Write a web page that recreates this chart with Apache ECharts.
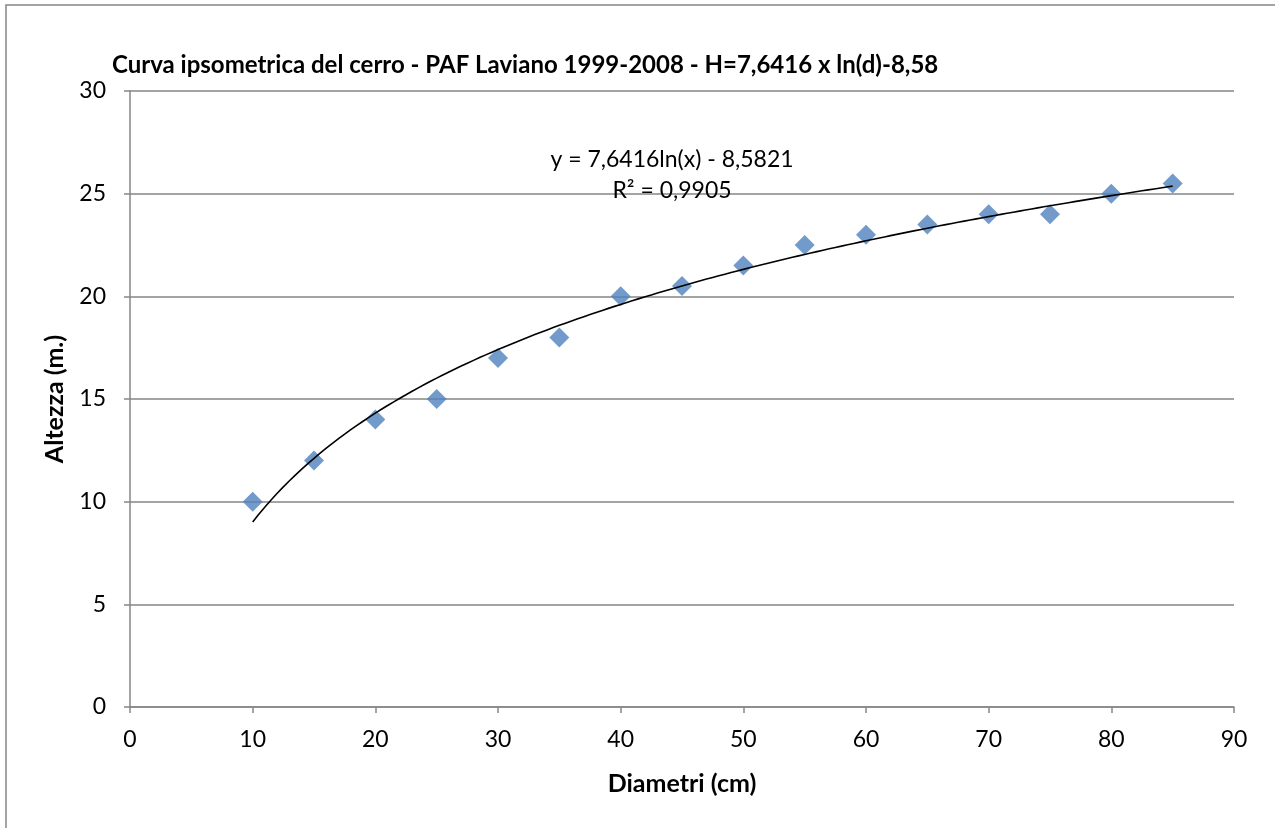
<!DOCTYPE html>
<html>
<head>
<meta charset="utf-8">
<title>Curva ipsometrica del cerro</title>
<script src="https://cdn.jsdelivr.net/npm/echarts@6/dist/echarts.min.js"></script>
<style>
  html, body { margin: 0; padding: 0; background: #ffffff; }
  #chart { width: 1275px; height: 828px; }
</style>
</head>
<body>
<div id="chart"></div>
<script>
// Diametri (cm) and measured heights (m)
const diametri = [10, 15, 20, 25, 30, 35, 40, 45, 50, 55, 60, 65, 70, 75, 80, 85];
const altezze  = [10, 12, 14, 15, 17, 18, 20, 20.5, 21.5, 22.5, 23, 23.5, 24, 24, 25, 25.5];

// Logarithmic trendline coefficients: y = a*ln(x) + b
const trendCoeff = [7.6416, -8.5821];
const trendR2 = '0,9905';

const xTicks = [0, 10, 20, 30, 40, 50, 60, 70, 80, 90];
const yTicks = [0, 5, 10, 15, 20, 25, 30];

const FONT = 'Lato, "Open Sans", sans-serif';
const AXIS_GRAY = '#868686';

const points = diametri.map((d, i) => [d, altezze[i]]);

// Sample the fitted curve across the measured diameter range
const trend = [];
const xStart = diametri[0], xEnd = diametri[diametri.length - 1];
for (let x = xStart; x <= xEnd + 1e-9; x += 0.5) {
  trend.push([x, trendCoeff[0] * Math.log(x) + trendCoeff[1]]);
}

const fmt = v => String(v).replace('.', ',');

const chart = echarts.init(document.getElementById('chart'), null, { renderer: 'canvas' });

chart.setOption({
  backgroundColor: '#ffffff',
  animation: false,
  title: {
    text: 'Curva ipsometrica del cerro - PAF Laviano 1999-2008 - H=7,6416 x ln(d)-8,58',
    left: 107,
    top: 48,
    textStyle: { fontFamily: FONT, fontWeight: 'bold', fontSize: 24, color: '#000000' }
  },
  grid: { left: 130, right: 41, top: 91, bottom: 121, containLabel: false },
  xAxis: {
    type: 'value',
    min: xTicks[0],
    max: xTicks[xTicks.length - 1],
    interval: 10,
    name: 'Diametri (cm)',
    nameLocation: 'middle',
    nameGap: 64,
    nameTextStyle: { fontFamily: FONT, fontWeight: 'bold', fontSize: 25, color: '#000000' },
    axisLine: { show: true, lineStyle: { color: AXIS_GRAY, width: 1.5 } },
    axisTick: { show: true, length: 6, inside: false, lineStyle: { color: AXIS_GRAY, width: 1.5 } },
    axisLabel: { fontFamily: FONT, fontSize: 23, color: '#000000', margin: 21 },
    splitLine: { show: false }
  },
  yAxis: {
    type: 'value',
    min: yTicks[0],
    max: yTicks[yTicks.length - 1],
    interval: 5,
    name: 'Altezza (m.)',
    nameLocation: 'middle',
    nameRotate: 90,
    nameGap: 63,
    nameTextStyle: { fontFamily: FONT, fontWeight: 'bold', fontSize: 25, color: '#000000' },
    axisLine: { show: true, lineStyle: { color: AXIS_GRAY, width: 1.5 } },
    axisTick: { show: true, length: 6, inside: false, lineStyle: { color: AXIS_GRAY, width: 1.5 } },
    axisLabel: { fontFamily: FONT, fontSize: 23, color: '#000000', margin: 24 },
    splitLine: { show: true, lineStyle: { color: AXIS_GRAY, width: 1.5 } }
  },
  series: [
    {
      name: 'Altezza',
      type: 'scatter',
      data: points,
      symbol: 'diamond',
      symbolSize: [20, 20],
      itemStyle: { color: '#4F81BD' },
      z: 2
    },
    {
      name: 'Tendenza',
      type: 'line',
      data: trend,
      smooth: false,
      showSymbol: false,
      symbol: 'none',
      lineStyle: { color: '#000000', width: 1.6 },
      z: 3
    }
  ],
  graphic: [
    {
      type: 'rect',
      shape: { x: 6, y: 5, width: 1300, height: 900 },
      style: { fill: 'none', stroke: AXIS_GRAY, lineWidth: 1.5 },
      silent: true,
      z: 0
    },
    {
      type: 'text',
      x: 672, y: 160,
      style: {
        text: 'y = ' + fmt(trendCoeff[0]) + 'ln(x) - ' + fmt(-trendCoeff[1]),
        font: '23px ' + FONT, fill: '#000000', align: 'center', verticalAlign: 'middle'
      },
      z: 10
    },
    {
      type: 'text',
      x: 672, y: 191,
      style: {
        text: 'R² = ' + trendR2,
        font: '23px ' + FONT, fill: '#000000', align: 'center', verticalAlign: 'middle'
      },
      z: 10
    }
  ]
});
</script>
</body>
</html>
